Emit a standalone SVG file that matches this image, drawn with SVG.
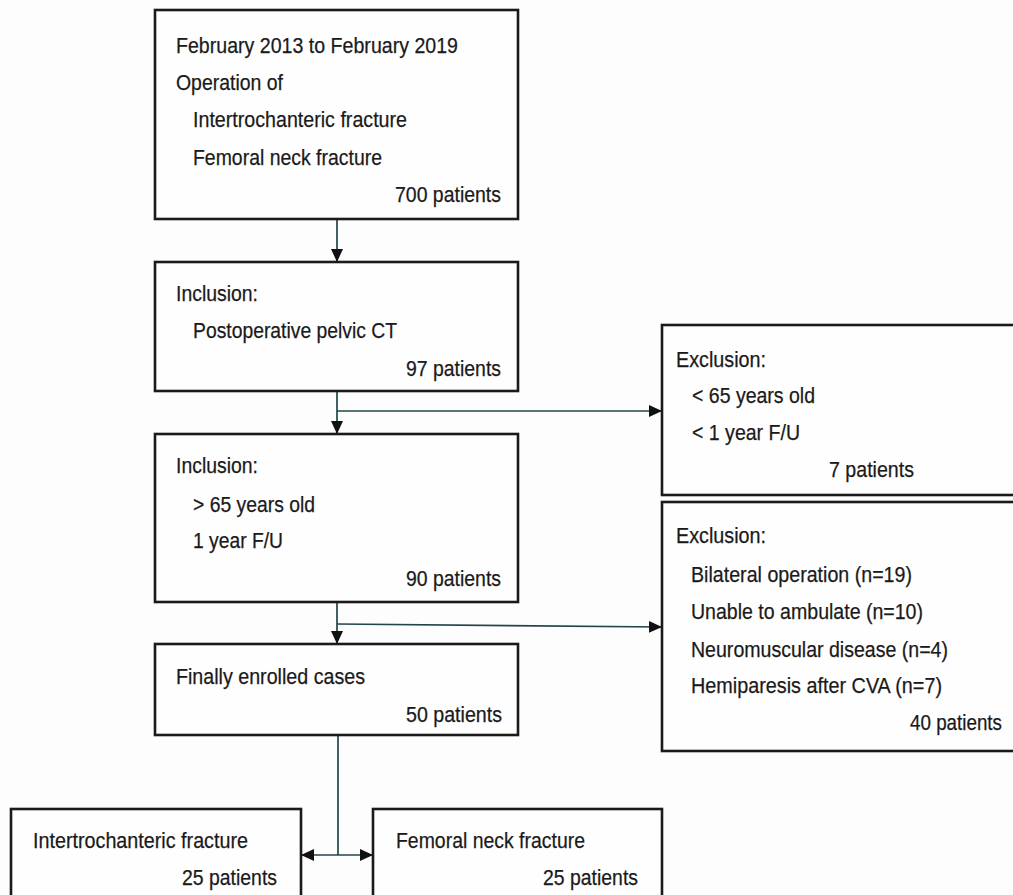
<svg xmlns="http://www.w3.org/2000/svg" width="1013" height="895" viewBox="0 0 1013 895">
<defs>
<marker id="ah" markerUnits="userSpaceOnUse" markerWidth="13" markerHeight="13" refX="13" refY="6.5" orient="auto-start-reverse" viewBox="0 0 13 13">
<path d="M0,0.5 L13,6.5 L0,12.5 z" fill="#111"/>
</marker>
<style>
.box{fill:#fffefe;stroke:#1a1a1a;stroke-width:2.6}
.t{font-family:"Liberation Sans",Arial,sans-serif;font-size:22.5px;fill:#1a1a1a;stroke:#1a1a1a;stroke-width:0.25}
.c{fill:none;stroke:#22454a;stroke-width:1.7}
.ca{fill:none;stroke:#22454a;stroke-width:1.7;marker-end:url(#ah)}
</style>
</defs>
<rect width="1013" height="895" fill="#fefdfd"/>
<g id="connectors">
<line class="ca" x1="337" y1="219" x2="337" y2="262"/>
<line class="ca" x1="337" y1="391" x2="337" y2="434"/>
<line class="ca" x1="337" y1="411" x2="662" y2="411"/>
<line class="ca" x1="337" y1="602" x2="337" y2="644"/>
<line class="ca" x1="337" y1="624" x2="662" y2="627"/>
<line class="c" x1="338" y1="735" x2="338" y2="855"/>
<line class="ca" x1="338" y1="855" x2="301" y2="855"/>
<line class="ca" x1="338" y1="855" x2="373" y2="855"/>
</g>
<g id="n1">
<rect class="box" x="155" y="10" width="363" height="209"/>
<text class="t" x="176" y="53" textLength="282" lengthAdjust="spacingAndGlyphs">February 2013 to February 2019</text>
<text class="t" x="176" y="90" textLength="107" lengthAdjust="spacingAndGlyphs">Operation of</text>
<text class="t" x="193" y="127" textLength="214" lengthAdjust="spacingAndGlyphs">Intertrochanteric fracture</text>
<text class="t" x="193" y="165" textLength="189" lengthAdjust="spacingAndGlyphs">Femoral neck fracture</text>
<text class="t" x="395" y="202" textLength="106" lengthAdjust="spacingAndGlyphs">700 patients</text>
</g>
<g id="n2">
<rect class="box" x="155" y="262" width="363" height="129"/>
<text class="t" x="176" y="301" textLength="82" lengthAdjust="spacingAndGlyphs">Inclusion:</text>
<text class="t" x="193" y="338" textLength="204" lengthAdjust="spacingAndGlyphs">Postoperative pelvic CT</text>
<text class="t" x="406" y="376" textLength="95" lengthAdjust="spacingAndGlyphs">97 patients</text>
</g>
<g id="n3">
<rect class="box" x="155" y="434" width="363" height="168"/>
<text class="t" x="176" y="473" textLength="82" lengthAdjust="spacingAndGlyphs">Inclusion:</text>
<text class="t" x="193" y="512" textLength="122" lengthAdjust="spacingAndGlyphs">&gt; 65 years old</text>
<text class="t" x="193" y="548" textLength="90" lengthAdjust="spacingAndGlyphs">1 year F/U</text>
<text class="t" x="406" y="586" textLength="95" lengthAdjust="spacingAndGlyphs">90 patients</text>
</g>
<g id="n4">
<rect class="box" x="155" y="644" width="363" height="91"/>
<text class="t" x="176" y="684" textLength="189" lengthAdjust="spacingAndGlyphs">Finally enrolled cases</text>
<text class="t" x="406" y="722" textLength="96" lengthAdjust="spacingAndGlyphs">50 patients</text>
</g>
<g id="ex1">
<rect class="box" x="662" y="325" width="370" height="170"/>
<text class="t" x="676" y="367" textLength="90" lengthAdjust="spacingAndGlyphs">Exclusion:</text>
<text class="t" x="692" y="403" textLength="123" lengthAdjust="spacingAndGlyphs">&lt; 65 years old</text>
<text class="t" x="692" y="440" textLength="108" lengthAdjust="spacingAndGlyphs">&lt; 1 year F/U</text>
<text class="t" x="829" y="477" textLength="85" lengthAdjust="spacingAndGlyphs">7 patients</text>
</g>
<g id="ex2">
<rect class="box" x="662" y="502" width="370" height="249"/>
<text class="t" x="676" y="543" textLength="90" lengthAdjust="spacingAndGlyphs">Exclusion:</text>
<text class="t" x="691" y="582" textLength="221" lengthAdjust="spacingAndGlyphs">Bilateral operation (n=19)</text>
<text class="t" x="691" y="619" textLength="232" lengthAdjust="spacingAndGlyphs">Unable to ambulate (n=10)</text>
<text class="t" x="691" y="657" textLength="257" lengthAdjust="spacingAndGlyphs">Neuromuscular disease (n=4)</text>
<text class="t" x="691" y="693" textLength="251" lengthAdjust="spacingAndGlyphs">Hemiparesis after CVA (n=7)</text>
<text class="t" x="910" y="730" textLength="92" lengthAdjust="spacingAndGlyphs">40 patients</text>
</g>
<g id="n5">
<rect class="box" x="11" y="809" width="290" height="110"/>
<text class="t" x="33" y="848" textLength="215" lengthAdjust="spacingAndGlyphs">Intertrochanteric fracture</text>
<text class="t" x="182" y="885" textLength="95" lengthAdjust="spacingAndGlyphs">25 patients</text>
</g>
<g id="n6">
<rect class="box" x="373" y="809" width="289" height="110"/>
<text class="t" x="396" y="848" textLength="189" lengthAdjust="spacingAndGlyphs">Femoral neck fracture</text>
<text class="t" x="543" y="885" textLength="95" lengthAdjust="spacingAndGlyphs">25 patients</text>
</g>
</svg>
